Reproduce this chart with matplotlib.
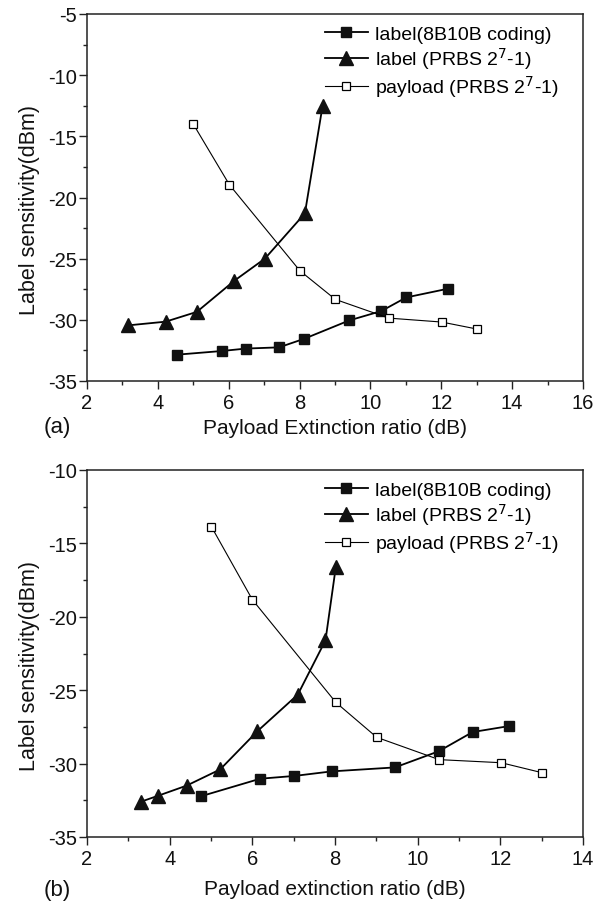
import matplotlib
matplotlib.use("Agg")
import matplotlib.pyplot as plt
from matplotlib.ticker import MultipleLocator

plt.rcParams['font.family'] = ['Liberation Sans', 'DejaVu Sans']
plt.rcParams['axes.unicode_minus'] = False

# Panel (a)
a_code_x = [4.53, 5.80, 6.48, 7.42, 8.13, 9.40, 10.31, 11.01, 12.20]
a_code_y = [-32.85, -32.55, -32.35, -32.25, -31.55, -30.05, -29.28, -28.17, -27.45]
a_prbs_x = [3.17, 4.22, 5.10, 6.16, 7.02, 8.15, 8.65]
a_prbs_y = [-30.45, -30.15, -29.35, -26.8, -25.0, -21.3, -12.5]
a_pay_x = [5.0, 6.02, 8.01, 9.01, 10.52, 12.01, 13.02]
a_pay_y = [-14.0, -18.96, -25.99, -28.33, -29.86, -30.18, -30.76]

# Panel (b)
b_code_x = [4.75, 6.19, 7.02, 7.92, 9.45, 10.51, 11.33, 12.22]
b_code_y = [-32.23, -31.03, -30.84, -30.53, -30.26, -29.16, -27.85, -27.44]
b_prbs_x = [3.30, 3.71, 4.41, 5.22, 6.12, 7.10, 7.77, 8.02]
b_prbs_y = [-32.6, -32.2, -31.5, -30.4, -27.8, -25.3, -21.6, -16.6]
b_pay_x = [5.01, 6.0, 8.02, 9.01, 10.52, 12.02, 13.01]
b_pay_y = [-13.86, -18.83, -25.83, -28.21, -29.73, -29.94, -30.62]

labels = ['label(8B10B coding)', r'label (PRBS 2$^7$-1)', r'payload (PRBS 2$^7$-1)']
xlabels = ['Payload Extinction ratio (dB)', 'Payload extinction ratio (dB)']
ylabel = 'Label sensitivity(dBm)'
panel_tags = ['(a)', '(b)']

fig = plt.figure(figsize=(6.06, 9.03), dpi=100)
W, H = 606, 903
ax_a = fig.add_axes([87 / W, 1 - 382 / H, 496 / W, 367 / H])
ax_b = fig.add_axes([87 / W, 1 - 838 / H, 496 / W, 367 / H])

panels = [
    (ax_a, a_code_x, a_code_y, a_prbs_x, a_prbs_y, a_pay_x, a_pay_y, (2, 16), (-35, -5), -0.100, -0.123),
    (ax_b, b_code_x, b_code_y, b_prbs_x, b_prbs_y, b_pay_x, b_pay_y, (2, 14), (-35, -10), -0.114, -0.144),
]

edge = '#222222'
tc = '#111111'
for i, (ax, cx, cy, px, py, qx, qy, xl, yl, xly, tagy) in enumerate(panels):
    ax.plot(cx, cy, '-s', color='black', lw=1.3, ms=7.5, mfc='#111111', mec='#111111', label=labels[0])
    ax.plot(px, py, '-^', color='black', lw=1.3, ms=10, mfc='#111111', mec='#111111', label=labels[1])
    ax.plot(qx, qy, '-s', color='black', lw=0.8, ms=5.5, mfc='white', mec='black', mew=0.9, label=labels[2])
    ax.set_xlim(*xl)
    ax.set_ylim(*yl)
    ax.xaxis.set_major_locator(MultipleLocator(2))
    ax.xaxis.set_minor_locator(MultipleLocator(1))
    ax.yaxis.set_major_locator(MultipleLocator(5))
    ax.yaxis.set_minor_locator(MultipleLocator(2.5))
    ax.tick_params(which='both', direction='out', top=False, right=False, labelsize=14.5,
                   color=edge, labelcolor=tc)
    ax.tick_params(which='major', length=5.5, width=1)
    ax.tick_params(which='minor', length=3, width=1)
    ax.tick_params(axis='y', which='major', pad=1.5)
    ax.tick_params(axis='x', which='major', pad=3)
    for s in ax.spines.values():
        s.set_color(edge)
        s.set_linewidth(1.1)
    ax.set_ylabel(ylabel, fontsize=15.5, color=tc)
    ax.yaxis.set_label_coords(-0.095, 0.469)
    ax.set_xlabel(xlabels[i], fontsize=15, color=tc)
    ax.xaxis.set_label_coords(0.5, xly)
    ax.text(-0.0605, tagy, panel_tags[i], transform=ax.transAxes, fontsize=16, color=tc,
            ha='center', va='center')
    ax.legend(loc='upper left', frameon=False, fontsize=14, handlelength=2.2, handletextpad=0.4,
              labelspacing=0.1, borderaxespad=0.0, bbox_to_anchor=(0.464, 0.99))

fig.savefig('out.png', dpi=100)
